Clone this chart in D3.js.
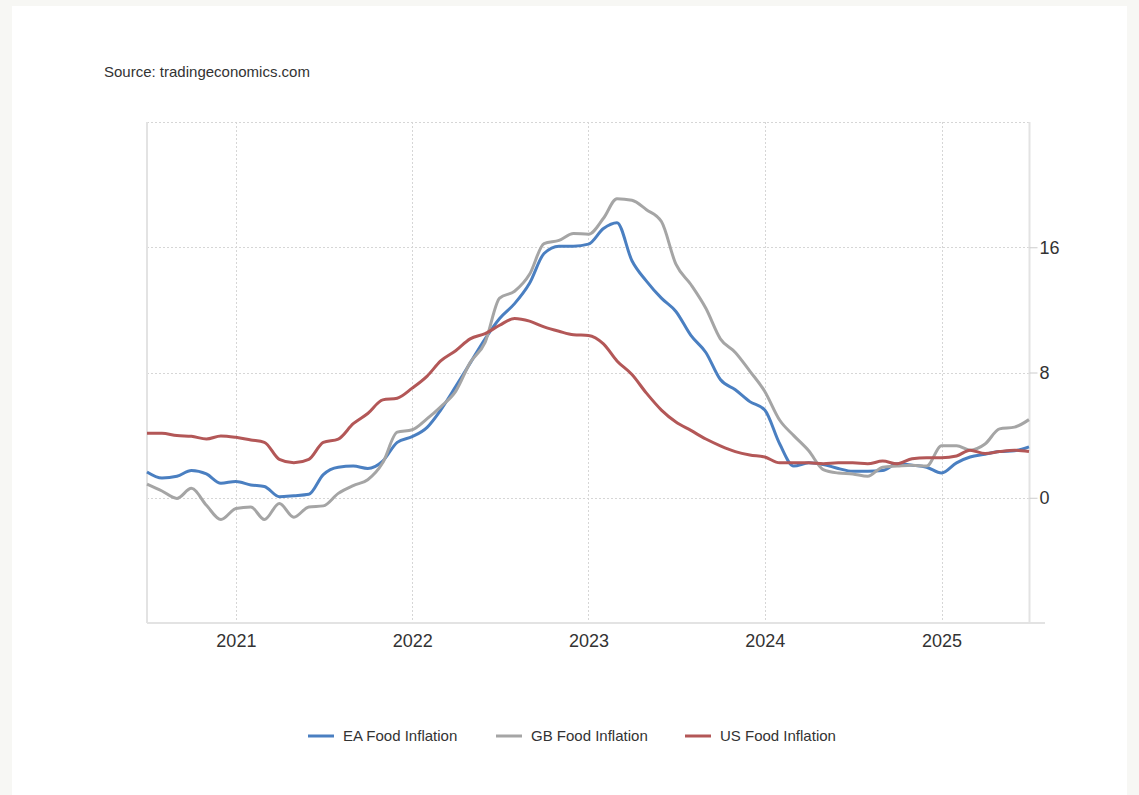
<!DOCTYPE html>
<html>
<head>
<meta charset="utf-8">
<script src="https://cdn.jsdelivr.net/npm/d3@7"></script>
<style>
  html, body { margin: 0; padding: 0; background: #f7f7f4; }
  svg { display: block; font-family: "Liberation Sans", Arial, sans-serif; }
</style>
</head>
<body>
<svg id="chart"></svg>
<script>
// monthly readings, Jul 2020 .. Jul 2025
var startMonth = new Date(2020, 6, 1)

var eaFood = [1.65, 1.26, 1.37, 1.74, 1.52, 0.93, 1.04, 0.82, 0.72, 0.07, 0.13, 0.22,
  1.48, 1.95, 2.02, 1.87, 2.34, 3.54, 3.9, 4.5, 5.6, 7.1, 8.6, 10.15,
  11.45, 12.4, 13.7, 15.6, 16.07, 16.07, 16.2, 17.2, 17.57, 15.14, 13.84, 12.75,
  11.9, 10.37, 9.28, 7.55, 6.9, 6.14, 5.6, 3.43, 2.02, 2.23, 2.13, 1.87,
  1.69, 1.69, 1.74, 2.17, 2.08, 1.95, 1.58, 2.23, 2.6, 2.78, 2.95, 3.0, 3.25]

var gbFood = [0.87, 0.43, -0.04, 0.6, -0.48, -1.39, -0.69, -0.59, -1.39, -0.37, -1.24, -0.59,
  -0.52, 0.28, 0.78, 1.15, 2.23, 4.19, 4.34, 5.05, 5.81, 6.79, 8.63, 9.93,
  12.75, 13.19, 14.27, 16.23, 16.44, 16.88, 16.83, 17.85, 19.1, 19.0, 18.4, 17.64,
  14.92, 13.62, 12.1, 10.15, 9.28, 8.09, 6.79, 4.95, 3.97, 3.0, 1.8, 1.58,
  1.52, 1.37, 1.95, 2.02, 2.08, 2.02, 3.32, 3.32, 3.04, 3.43, 4.4, 4.51, 4.99]

var usFood = [4.12, 4.12, 3.97, 3.93, 3.75, 3.95, 3.86, 3.69, 3.54, 2.45, 2.23, 2.45,
  3.54, 3.75, 4.73, 5.38, 6.25, 6.36, 7.0, 7.77, 8.74, 9.39, 10.15, 10.48,
  11.02, 11.45, 11.28, 10.91, 10.63, 10.41, 10.37, 9.83, 8.74, 7.87, 6.68, 5.6,
  4.84, 4.3, 3.75, 3.32, 2.95, 2.73, 2.6, 2.23, 2.23, 2.23, 2.17, 2.23,
  2.23, 2.17, 2.34, 2.17, 2.49, 2.56, 2.56, 2.67, 3.04, 2.82, 2.95, 3.04, 2.95]

var seriesNames = ["EA Food Inflation", "GB Food Inflation", "US Food Inflation"]
var seriesColors = ["#4a7fc1", "#a5a5a5", "#b35757"]
var yTicks = [0, 8, 16]
var yGrid = [0, 8, 16, 24]
var yearTicks = [2021, 2022, 2023, 2024, 2025]

var width = 1139, height = 795
var plot = { left: 147, right: 1029, top: 122, bottom: 623 }

var svg = d3.select("#chart").attr("width", width).attr("height", height)

// white card
svg.append("rect")
    .attr("x", 12).attr("y", 6)
    .attr("width", 1115).attr("height", height)
    .attr("fill", "#ffffff")

svg.append("text")
    .attr("x", 104).attr("y", 77)
    .attr("font-size", 15)
    .attr("fill", "#333")
    .text("Source: tradingeconomics.com")

var x = d3.scaleTime()
    .domain([startMonth, d3.timeMonth.offset(startMonth, 60)])
    .range([plot.left, plot.right])

var y = d3.scaleLinear()
    .domain([-8, 24])
    .range([plot.bottom, plot.top])

// grid
var grid = svg.append("g")
grid.selectAll("line.h")
    .data(yGrid)
    .enter().append("line")
    .attr("x1", plot.left).attr("x2", plot.right)
    .attr("y1", function(d) { return Math.round(y(d)) + 0.5 })
    .attr("y2", function(d) { return Math.round(y(d)) + 0.5 })
    .attr("stroke", "#d6d6d6")
    .attr("stroke-dasharray", "2,2")

grid.selectAll("line.v")
    .data(yearTicks)
    .enter().append("line")
    .attr("x1", function(d) { return Math.round(x(new Date(d, 0, 1))) + 0.5 })
    .attr("x2", function(d) { return Math.round(x(new Date(d, 0, 1))) + 0.5 })
    .attr("y1", plot.top).attr("y2", plot.bottom)
    .attr("stroke", "#d6d6d6")
    .attr("stroke-dasharray", "2,2")

// frame lines
svg.append("line")
    .attr("x1", plot.left).attr("x2", plot.left)
    .attr("y1", plot.top).attr("y2", plot.bottom)
    .attr("stroke", "#e3e3e3").attr("stroke-width", 2)
svg.append("line")
    .attr("x1", plot.right + 0.5).attr("x2", plot.right + 0.5)
    .attr("y1", plot.top).attr("y2", plot.bottom)
    .attr("stroke", "#e3e3e3").attr("stroke-width", 2)
svg.append("line")
    .attr("x1", plot.left).attr("x2", plot.right + 16)
    .attr("y1", plot.bottom).attr("y2", plot.bottom)
    .attr("stroke", "#e3e3e3").attr("stroke-width", 2)

// right axis
var yAxis = d3.axisRight(y).tickValues(yTicks).tickSize(8).tickPadding(2)
var yg = svg.append("g")
    .attr("transform", "translate(" + (plot.right + 0.5) + ",0)")
    .call(yAxis)
yg.select(".domain").remove()
yg.selectAll(".tick line").attr("stroke", "#cccccc")
yg.selectAll(".tick text")
    .attr("font-size", 18)
    .attr("fill", "#333")
    .attr("font-family", "Liberation Sans, Arial, sans-serif")

// bottom axis
var xAxis = d3.axisBottom(x)
    .tickValues(yearTicks.map(function(d) { return new Date(d, 0, 1) }))
    .tickFormat(d3.timeFormat("%Y"))
    .tickSize(0).tickPadding(11)
var xg = svg.append("g")
    .attr("transform", "translate(0," + plot.bottom + ")")
    .call(xAxis)
xg.select(".domain").remove()
xg.selectAll(".tick text")
    .attr("font-size", 18)
    .attr("fill", "#333")
    .attr("font-family", "Liberation Sans, Arial, sans-serif")

// lines
var allSeries = [eaFood, gbFood, usFood]
var line = d3.line()
    .x(function(d, i) { return x(d3.timeMonth.offset(startMonth, i)) })
    .y(function(d) { return y(d) })
    .curve(d3.curveMonotoneX)

svg.append("g")
    .selectAll("path")
    .data(allSeries)
    .enter().append("path")
    .attr("d", line)
    .attr("fill", "none")
    .attr("stroke", function(d, i) { return seriesColors[i] })
    .attr("stroke-width", 3)
    .attr("stroke-linejoin", "round")

// legend
var legendX = [308, 496, 685]
var legend = svg.append("g")
    .selectAll("g")
    .data(seriesNames)
    .enter().append("g")
    .attr("transform", function(d, i) { return "translate(" + legendX[i] + ",736)" })
legend.append("line")
    .attr("x1", 0).attr("x2", 26)
    .attr("stroke", function(d, i) { return seriesColors[i] })
    .attr("stroke-width", 3)
legend.append("text")
    .attr("x", 35).attr("y", 5)
    .attr("font-size", 15)
    .attr("fill", "#333")
    .text(function(d) { return d })
</script>
</body>
</html>
